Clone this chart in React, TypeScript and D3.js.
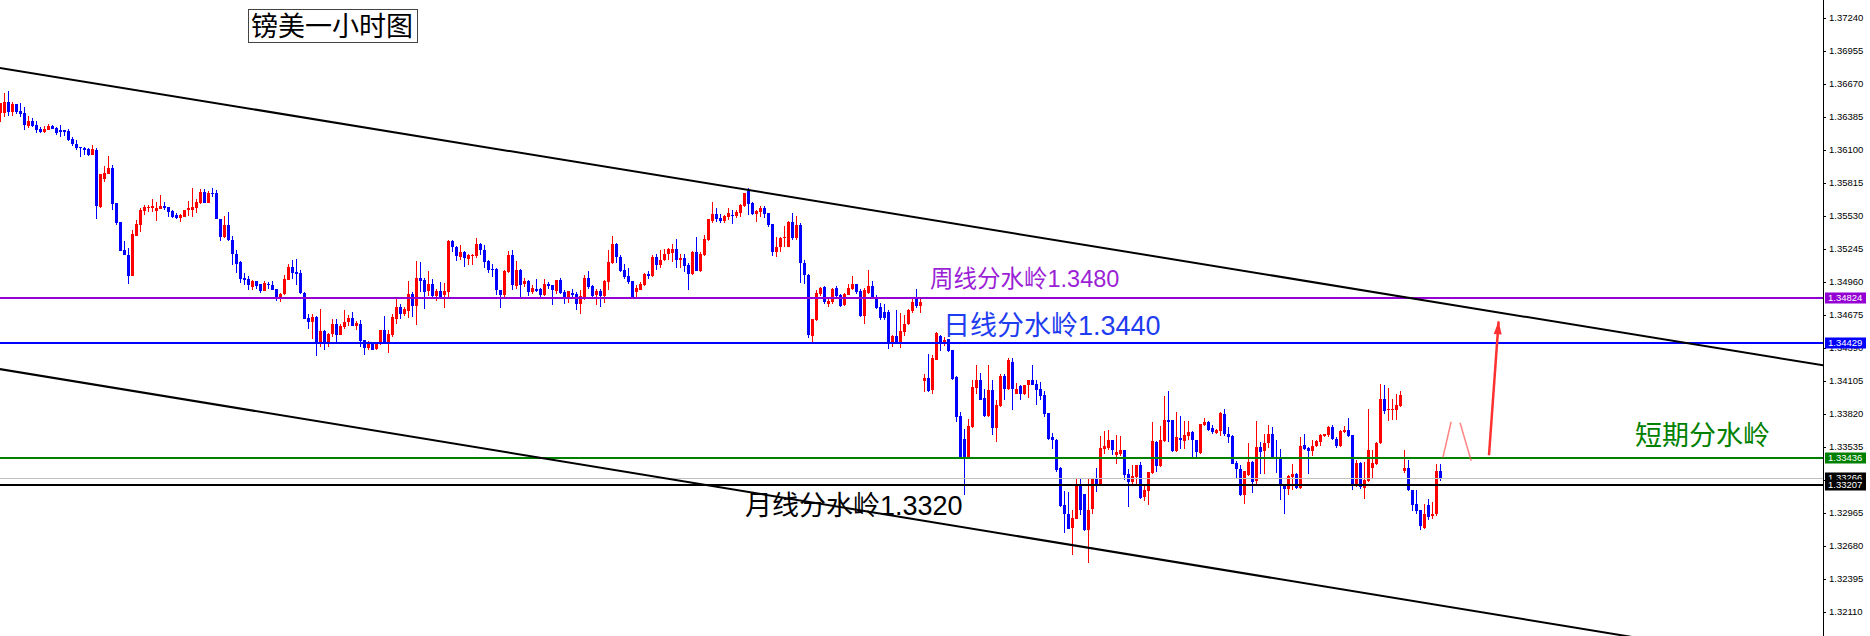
import React, { useEffect } from 'react';
import * as d3 from 'd3';

// ---------- DATA (GBP/USD 1H) ----------
const opens = [
1.36416,1.36422,1.36511,1.36430,1.36497,1.36436,1.36419,1.36309,1.36350,1.36315,
1.36281,1.36255,1.36275,1.36307,1.36286,1.36272,1.36272,1.36263,1.36194,1.36151,
1.36125,1.36119,1.36108,1.36059,1.36099,1.35604,1.35849,1.35892,1.35947,1.35638,
1.35474,1.35235,1.35192,1.35013,1.35356,1.35451,1.35575,1.35598,1.35595,1.35572,
1.35592,1.35615,1.35604,1.35575,1.35540,1.35517,1.35523,1.35578,1.35581,1.35600,
1.35638,1.35739,1.35644,1.35730,1.35730,1.35508,1.35350,1.35451,1.35327,1.35206,
1.35134,1.34996,1.34984,1.34918,1.34967,1.34941,1.34883,1.34947,1.34932,1.34901,
1.34826,1.34857,1.34981,1.35088,1.35047,1.35039,1.34869,1.34650,1.34615,1.34659,
1.34428,1.34535,1.34428,1.34509,1.34595,1.34506,1.34572,1.34613,1.34650,1.34581,
1.34595,1.34457,1.34394,1.34434,1.34385,1.34422,1.34543,1.34422,1.34500,1.34644,
1.34745,1.34682,1.34710,1.34854,1.34754,1.34993,1.34975,1.34883,1.34941,1.34837,
1.34883,1.34846,1.34875,1.35312,1.35263,1.35177,1.35220,1.35157,1.35183,1.35186,
1.35286,1.35240,1.35140,1.35073,1.35070,1.34895,1.34846,1.35047,1.35191,1.34926,
1.35062,1.34941,1.34967,1.34875,1.34903,1.34898,1.34846,1.34947,1.34932,1.34883,
1.34975,1.34875,1.34811,1.34869,1.34860,1.34768,1.34826,1.34993,1.34926,1.34846,
1.34880,1.34837,1.34961,1.35120,1.35287,1.35177,1.35062,1.35010,1.34967,1.34875,
1.34895,1.34933,1.35028,1.35010,1.35177,1.35105,1.35149,1.35200,1.35212,1.35249,
1.35149,1.35169,1.35105,1.35028,1.35218,1.35056,1.35192,1.35321,1.35488,1.35543,
1.35514,1.35486,1.35523,1.35537,1.35529,1.35560,1.35618,1.35748,1.35638,1.35543,
1.35566,1.35595,1.35552,1.35457,1.35221,1.35264,1.35344,1.35264,1.35480,1.35344,
1.35451,1.35128,1.35019,1.34492,1.34630,1.34855,1.34918,1.34774,1.34788,1.34912,
1.34852,1.34760,1.34852,1.34898,1.34941,1.34881,1.34667,1.34866,1.34924,1.34832,
1.34745,1.34702,1.34702,1.34428,1.34495,1.34434,1.34529,1.34595,1.34711,1.34809,
1.34754,1.34106,1.34135,1.34025,1.34290,1.34495,1.34434,1.34466,1.34371,1.34140,
1.33803,1.33608,1.33435,1.33708,1.34048,1.34112,1.33959,1.33801,1.34031,1.33700,
1.33890,1.34146,1.34040,1.34267,1.33991,1.34060,1.33991,1.34068,1.34112,1.34077,
1.34034,1.33982,1.33829,1.33622,1.33599,1.33354,1.33032,1.32960,1.32836,1.32916,
1.33204,1.33127,1.32816,1.33003,1.33268,1.33204,1.33515,1.33530,1.33593,1.33464,
1.33478,1.33507,1.33299,1.33233,1.33276,1.33377,1.33104,1.33155,1.33311,1.33579,
1.33369,1.33587,1.33772,1.33766,1.33501,1.33613,1.33587,1.33628,1.33665,1.33599,
1.33484,1.33723,1.33752,1.33700,1.33656,1.33674,1.33823,1.33651,1.33630,1.33397,
1.33342,1.33124,1.33291,1.33406,1.33239,1.33535,1.33501,1.33573,1.33651,1.33440,
1.33429,1.33219,1.33170,1.33276,1.33299,1.33178,1.33550,1.33530,1.33501,1.33544,
1.33579,1.33630,1.33636,1.33708,1.33607,1.33544,1.33665,1.33679,1.33636,1.33219,
1.33397,1.33184,1.33239,1.33354,1.33386,1.33570,1.33953,1.33858,1.33858,1.33852,
1.33890,1.33328,1.33357,1.33167,1.33040,1.32988,1.32838,1.33031,1.32936,1.32954,
1.33325];
const highs = [
1.36508,1.36589,1.36609,1.36511,1.36497,1.36502,1.36468,1.36393,1.36379,1.36350,
1.36295,1.36307,1.36324,1.36315,1.36295,1.36315,1.36272,1.36281,1.36209,1.36186,
1.36128,1.36128,1.36114,1.36142,1.36114,1.35889,1.35961,1.36047,1.35970,1.35644,
1.35480,1.35313,1.35250,1.35408,1.35494,1.35595,1.35624,1.35624,1.35673,1.35653,
1.35710,1.35647,1.35610,1.35581,1.35552,1.35543,1.35581,1.35659,1.35774,1.35681,
1.35760,1.35760,1.35745,1.35770,1.35753,1.35508,1.35528,1.35563,1.35356,1.35240,
1.35142,1.35039,1.35013,1.34981,1.34970,1.34947,1.34967,1.34961,1.34970,1.34901,
1.34866,1.35019,1.35119,1.35148,1.35157,1.35062,1.34875,1.34682,1.34682,1.34664,
1.34728,1.34543,1.34520,1.34644,1.34644,1.34601,1.34716,1.34673,1.34702,1.34621,
1.34630,1.34463,1.34448,1.34443,1.34443,1.34543,1.34664,1.34543,1.34687,1.34817,
1.34774,1.34745,1.34970,1.34875,1.35142,1.35134,1.34996,1.35053,1.34984,1.34898,
1.34958,1.34949,1.35321,1.35321,1.35269,1.35278,1.35226,1.35200,1.35206,1.35338,
1.35298,1.35278,1.35154,1.35114,1.35085,1.34895,1.35062,1.35226,1.35235,1.35142,
1.35068,1.34998,1.34975,1.34932,1.34990,1.34912,1.34984,1.34961,1.34932,1.34975,
1.34998,1.34889,1.34880,1.34903,1.34875,1.34889,1.35019,1.35053,1.34938,1.34898,
1.34903,1.34981,1.35238,1.35356,1.35293,1.35189,1.35114,1.35077,1.34970,1.34938,
1.34961,1.35039,1.35056,1.35192,1.35200,1.35235,1.35249,1.35255,1.35287,1.35330,
1.35206,1.35200,1.35120,1.35226,1.35350,1.35221,1.35370,1.35503,1.35653,1.35595,
1.35543,1.35537,1.35595,1.35581,1.35581,1.35630,1.35730,1.35768,1.35653,1.35581,
1.35618,1.35618,1.35558,1.35460,1.35350,1.35350,1.35442,1.35488,1.35558,1.35529,
1.35471,1.35149,1.35028,1.34644,1.34889,1.34918,1.34924,1.34823,1.34904,1.34924,
1.34860,1.34869,1.34947,1.35010,1.34947,1.34898,1.34912,1.35062,1.34970,1.34852,
1.34780,1.34774,1.34722,1.34506,1.34722,1.34688,1.34673,1.34731,1.34809,1.34898,
1.34817,1.34163,1.34342,1.34328,1.34529,1.34506,1.34486,1.34472,1.34371,1.34146,
1.33838,1.33694,1.33780,1.34112,1.34247,1.34175,1.34034,1.34241,1.34112,1.33939,
1.34169,1.34169,1.34307,1.34302,1.34091,1.34074,1.34074,1.34117,1.34241,1.34112,
1.34097,1.34017,1.33829,1.33657,1.33602,1.33363,1.33155,1.33147,1.32988,1.33262,
1.33256,1.33132,1.33256,1.33268,1.33357,1.33628,1.33671,1.33685,1.33599,1.33642,
1.33628,1.33513,1.33348,1.33383,1.33383,1.33406,1.33204,1.33320,1.33752,1.33587,
1.33714,1.33973,1.34017,1.33772,1.33838,1.33801,1.33760,1.33760,1.33671,1.33599,
1.33737,1.33789,1.33757,1.33723,1.33694,1.33838,1.33861,1.33708,1.33636,1.33414,
1.33377,1.33325,1.33570,1.33412,1.33757,1.33579,1.33645,1.33723,1.33708,1.33593,
1.33521,1.33219,1.33291,1.33391,1.33311,1.33622,1.33645,1.33535,1.33599,1.33599,
1.33645,1.33651,1.33714,1.33723,1.33622,1.33679,1.33714,1.33786,1.33642,1.33426,
1.33406,1.33406,1.33861,1.33507,1.33579,1.34083,1.34074,1.34048,1.33953,1.33996,
1.34019,1.33512,1.33426,1.33167,1.33167,1.32994,1.33046,1.33089,1.33060,1.33386,
1.33391];
const lows = [
1.36344,1.36387,1.36396,1.36396,1.36410,1.36381,1.36272,1.36286,1.36301,1.36243,
1.36249,1.36249,1.36272,1.36278,1.36229,1.36214,1.36220,1.36180,1.36134,1.36099,
1.36042,1.36053,1.36050,1.36056,1.35503,1.35595,1.35826,1.35892,1.35581,1.35451,
1.35229,1.35192,1.34947,1.35013,1.35356,1.35394,1.35538,1.35566,1.35566,1.35489,
1.35587,1.35581,1.35523,1.35509,1.35503,1.35477,1.35523,1.35529,1.35523,1.35557,
1.35632,1.35640,1.35640,1.35690,1.35502,1.35315,1.35344,1.35315,1.35111,1.35039,
1.34952,1.34935,1.34889,1.34889,1.34903,1.34869,1.34880,1.34903,1.34889,1.34797,
1.34788,1.34849,1.34975,1.34990,1.34932,1.34860,1.34641,1.34558,1.34466,1.34322,
1.34399,1.34371,1.34399,1.34486,1.34443,1.34500,1.34558,1.34578,1.34578,1.34543,
1.34399,1.34333,1.34371,1.34376,1.34371,1.34414,1.34422,1.34348,1.34486,1.34601,
1.34644,1.34664,1.34653,1.34659,1.34589,1.34875,1.34728,1.34837,1.34823,1.34797,
1.34826,1.34736,1.34826,1.35220,1.35142,1.35148,1.35091,1.35108,1.35108,1.35163,
1.35194,1.35085,1.35039,1.35004,1.34846,1.34739,1.34817,1.35042,1.34895,1.34903,
1.34826,1.34918,1.34837,1.34854,1.34875,1.34826,1.34840,1.34903,1.34759,1.34854,
1.34860,1.34768,1.34782,1.34826,1.34722,1.34682,1.34803,1.34903,1.34826,1.34759,
1.34745,1.34780,1.34889,1.35114,1.35126,1.35048,1.34982,1.34941,1.34826,1.34832,
1.34889,1.34927,1.34982,1.35005,1.35062,1.35077,1.35143,1.35149,1.35134,1.35085,
1.35085,1.35048,1.34889,1.35019,1.35056,1.35048,1.35186,1.35316,1.35471,1.35480,
1.35471,1.35471,1.35494,1.35460,1.35509,1.35523,1.35609,1.35537,1.35537,1.35480,
1.35523,1.35509,1.35437,1.35183,1.35177,1.35221,1.35264,1.35258,1.35321,1.35321,
1.34953,1.34947,1.34480,1.34434,1.34624,1.34837,1.34774,1.34745,1.34774,1.34823,
1.34745,1.34751,1.34846,1.34889,1.34860,1.34659,1.34601,1.34860,1.34809,1.34731,
1.34636,1.34630,1.34385,1.34400,1.34423,1.34394,1.34495,1.34587,1.34688,1.34739,
1.34688,1.34011,1.34011,1.33996,1.34284,1.34365,1.34405,1.34356,1.34117,1.33752,
1.33429,1.33118,1.33429,1.33703,1.33996,1.33939,1.33795,1.33795,1.33636,1.33579,
1.33881,1.33939,1.34025,1.33853,1.33991,1.33945,1.33982,1.33962,1.34068,1.33896,
1.33939,1.33795,1.33593,1.33521,1.33320,1.33017,1.32793,1.32830,1.32600,1.32911,
1.32945,1.32810,1.32531,1.32960,1.33147,1.33204,1.33478,1.33507,1.33464,1.33392,
1.33455,1.33248,1.33017,1.33219,1.33213,1.33089,1.33069,1.33032,1.33305,1.33320,
1.33363,1.33579,1.33579,1.33492,1.33492,1.33515,1.33515,1.33593,1.33449,1.33449,
1.33478,1.33714,1.33674,1.33645,1.33645,1.33630,1.33628,1.33570,1.33386,1.33268,
1.33112,1.33043,1.33285,1.33138,1.33219,1.33305,1.33305,1.33530,1.33435,1.33311,
1.33075,1.32957,1.33124,1.33167,1.33170,1.33170,1.33512,1.33299,1.33455,1.33535,
1.33541,1.33622,1.33622,1.33599,1.33530,1.33535,1.33659,1.33622,1.33161,1.33190,
1.33170,1.33089,1.33233,1.33262,1.33383,1.33564,1.33823,1.33760,1.33766,1.33766,
1.33881,1.33311,1.33152,1.32982,1.32954,1.32821,1.32824,1.32902,1.32916,1.32939,
1.33242];
const closes = [
1.36502,1.36511,1.36425,1.36497,1.36430,1.36413,1.36315,1.36353,1.36309,1.36272,
1.36258,1.36281,1.36309,1.36284,1.36243,1.36255,1.36258,1.36186,1.36148,1.36119,
1.36114,1.36099,1.36056,1.36105,1.35615,1.35889,1.35903,1.35947,1.35633,1.35466,
1.35229,1.35195,1.35013,1.35373,1.35460,1.35581,1.35610,1.35610,1.35615,1.35601,
1.35615,1.35595,1.35566,1.35523,1.35512,1.35535,1.35581,1.35601,1.35610,1.35649,
1.35739,1.35644,1.35730,1.35718,1.35502,1.35350,1.35451,1.35327,1.35206,1.35119,
1.34987,1.34978,1.34935,1.34967,1.34924,1.34883,1.34952,1.34932,1.34895,1.34826,
1.34860,1.34987,1.35091,1.35039,1.35033,1.34869,1.34644,1.34615,1.34659,1.34428,
1.34535,1.34428,1.34515,1.34595,1.34503,1.34581,1.34615,1.34650,1.34581,1.34607,
1.34451,1.34394,1.34422,1.34376,1.34440,1.34543,1.34422,1.34509,1.34659,1.34745,
1.34682,1.34725,1.34854,1.34754,1.34998,1.34970,1.34875,1.34941,1.34837,1.34883,
1.34831,1.34883,1.35315,1.35258,1.35183,1.35220,1.35163,1.35191,1.35191,1.35286,
1.35235,1.35134,1.35062,1.35062,1.34895,1.34846,1.35053,1.35191,1.34932,1.35062,
1.34932,1.34967,1.34875,1.34909,1.34883,1.34846,1.34947,1.34924,1.34889,1.34975,
1.34866,1.34826,1.34880,1.34852,1.34768,1.34837,1.34993,1.34918,1.34837,1.34880,
1.34837,1.34967,1.35131,1.35287,1.35172,1.35056,1.34999,1.34961,1.34826,1.34904,
1.34941,1.35028,1.35010,1.35177,1.35105,1.35154,1.35206,1.35244,1.35249,1.35149,
1.35169,1.35100,1.35028,1.35221,1.35056,1.35200,1.35330,1.35500,1.35543,1.35500,
1.35488,1.35532,1.35558,1.35532,1.35566,1.35624,1.35725,1.35632,1.35543,1.35572,
1.35601,1.35543,1.35451,1.35221,1.35264,1.35344,1.35350,1.35480,1.35344,1.35451,
1.35126,1.35019,1.34501,1.34639,1.34866,1.34904,1.34783,1.34794,1.34898,1.34837,
1.34751,1.34860,1.34909,1.34941,1.34875,1.34667,1.34889,1.34924,1.34811,1.34739,
1.34650,1.34650,1.34428,1.34495,1.34428,1.34535,1.34601,1.34716,1.34788,1.34751,
1.34783,1.34135,1.34019,1.34307,1.34521,1.34434,1.34463,1.34365,1.34126,1.33795,
1.33435,1.33435,1.33714,1.34054,1.34112,1.33945,1.33801,1.34025,1.33703,1.33896,
1.34146,1.34040,1.34284,1.34034,1.34034,1.33991,1.34068,1.34112,1.34068,1.34031,
1.33973,1.33818,1.33608,1.33599,1.33334,1.33023,1.32954,1.32830,1.32922,1.33204,
1.32988,1.32816,1.32988,1.33268,1.33204,1.33527,1.33541,1.33593,1.33507,1.33492,
1.33507,1.33291,1.33233,1.33282,1.33377,1.33098,1.33161,1.33320,1.33585,1.33369,
1.33593,1.33772,1.33752,1.33501,1.33622,1.33593,1.33636,1.33665,1.33593,1.33492,
1.33731,1.33752,1.33680,1.33665,1.33679,1.33829,1.33651,1.33622,1.33391,1.33348,
1.33124,1.33325,1.33406,1.33233,1.33535,1.33492,1.33573,1.33651,1.33435,1.33435,
1.33213,1.33170,1.33282,1.33299,1.33178,1.33547,1.33521,1.33501,1.33544,1.33584,
1.33636,1.33645,1.33708,1.33602,1.33544,1.33674,1.33679,1.33630,1.33219,1.33397,
1.33190,1.33247,1.33512,1.33397,1.33570,1.33953,1.33846,1.33867,1.33867,1.33895,
1.33982,1.33357,1.33161,1.33031,1.32982,1.32850,1.32959,1.32931,1.32959,1.33328,
1.33262];

const yTicks = [1.37240,1.36955,1.36670,1.36385,1.36100,1.35815,1.35530,1.35245,1.34960,
  1.34675,1.34390,1.34105,1.33820,1.33535,1.33250,1.32965,1.32680,1.32395,1.32110];

const weeklyLevel = 1.34824;
const dailyLevel = 1.34429;
const shortLevel = 1.33436;
const bidPrice = 1.33266;
const monthlyLevel = 1.33207;

// trend channel (candle index, price)
const upperTrend = [[-1, 1.36814], [460, 1.34216]];
const lowerTrend = [[-1, 1.34213], [420, 1.31826]];

// red hand-drawn forecast strokes (candle index, price)
const forecastA = [[360.7, 1.33447], [362.7, 1.33749]];
const forecastB = [[365.0, 1.33740], [367.7, 1.33421]];
const forecastArrow = [[372.2, 1.33464], [374.6, 1.34620]];

const titleText = '镑美一小时图';
const weeklyText = '周线分水岭1.3480';
const dailyText = '日线分水岭1.3440';
const monthlyText = '月线分水岭1.3320';
const shortText = '短期分水岭';

// ---------- CHART ----------
const W = 1870;
const H = 636;
const PLOT_R = 1823;

export default function App() {
  useEffect(() => {
    document.body.style.margin = '0';
  }, []);

  const x = d3.scaleLinear().domain([0, 360]).range([0.2, 1440.2]);
  const y = d3.scaleLinear().domain([1.3724, 1.3211]).range([18, 612]);

  const candles = opens.map((o, i) => ({ i, o, h: highs[i], l: lows[i], c: closes[i] }));

  const lineGen = d3.line<number[]>().x(d => x(d[0])).y(d => y(d[1]));

  const hLine = (v: number, color: string, w: number) => {
    const yy = Math.round(y(v));
    return <rect x={0} y={yy - w / 2} width={PLOT_R} height={w} fill={color} />;
  };

  const tag = (v: number, bg: string, key: string) => {
    const yy = Math.round(y(v));
    return (
      <g key={key}>
        <rect x={1825} y={yy - 5.5} width={41} height={11} fill={bg} />
        <text x={1828} y={yy} dy="0.36em" fill="#fff" fontSize={9.5}
          fontFamily="'Liberation Sans', Arial, sans-serif">{v.toFixed(5)}</text>
      </g>
    );
  };

  const cjkFont = "'Liberation Sans', 'Noto Sans CJK SC', sans-serif";

  // arrow head
  const a0 = forecastArrow[0], a1 = forecastArrow[1];
  const ax0 = x(a0[0]), ay0 = y(a0[1]), ax1 = x(a1[0]), ay1 = y(a1[1]);
  const ang = Math.atan2(ay1 - ay0, ax1 - ax0);
  const hl = 13, hw = 4;
  const bx = ax1 - hl * Math.cos(ang), by = ay1 - hl * Math.sin(ang);
  const head = [
    [ax1, ay1],
    [bx + hw * Math.sin(ang), by - hw * Math.cos(ang)],
    [bx - hw * Math.sin(ang), by + hw * Math.cos(ang)],
  ];

  return (
    <svg width={W} height={H} style={{ position: 'absolute', left: 0, top: 0, display: 'block', background: '#fff' }}>
      <defs>
        <clipPath id="plot"><rect x={0} y={0} width={PLOT_R} height={H} /></clipPath>
      </defs>

      {/* candles */}
      <g shapeRendering="crispEdges">
        {candles.map(d => {
          const cx = Math.round(x(d.i));
          const up = d.c >= d.o;
          const col = up ? '#FF0000' : '#0000FF';
          const top = Math.round(y(Math.max(d.o, d.c)));
          const bot = Math.round(y(Math.min(d.o, d.c)));
          const wt = Math.round(y(d.h));
          const wb = Math.round(y(d.l));
          return (
            <g key={d.i}>
              <rect x={cx} y={wt} width={1} height={Math.max(1, wb - wt)} fill={col} />
              <rect x={cx - 1} y={top} width={3} height={Math.max(1, bot - top)} fill={col} />
            </g>
          );
        })}
      </g>

      {/* horizontal levels */}
      <g shapeRendering="crispEdges">
        {hLine(weeklyLevel, '#9400D3', 2)}
        {hLine(dailyLevel, '#0000FF', 2)}
        {hLine(shortLevel, '#008000', 2)}
        {hLine(bidPrice, '#C0C0C0', 1)}
        {hLine(monthlyLevel, '#000000', 2)}
      </g>

      {/* trend channel */}
      <g clipPath="url(#plot)">
        <path d={lineGen(upperTrend) || ''} stroke="#000" strokeWidth={2} fill="none" />
        <path d={lineGen(lowerTrend) || ''} stroke="#000" strokeWidth={2} fill="none" />
      </g>

      {/* forecast strokes */}
      <path d={lineGen(forecastA) || ''} stroke="#FF5050" strokeOpacity={0.7} strokeWidth={1.5} fill="none" strokeLinecap="round" />
      <path d={lineGen(forecastB) || ''} stroke="#FF5050" strokeOpacity={0.7} strokeWidth={1.5} fill="none" strokeLinecap="round" />
      <path d={lineGen(forecastArrow) || ''} stroke="#FF3030" strokeWidth={2.5} fill="none" />
      <polygon points={head.map(p => p.join(',')).join(' ')} fill="#FF3030" />

      {/* annotation texts */}
      <text x={930} y={287} fill="#9B1FD6" fontSize={23.5} fontFamily={cjkFont}>{weeklyText}</text>
      <text x={943} y={335} fill="#1E3CF0" fontSize={27} fontFamily={cjkFont}>{dailyText}</text>
      <text x={745} y={515} fill="#000" fontSize={27} fontFamily={cjkFont}>{monthlyText}</text>
      <text x={1635} y={445} fill="#008000" fontSize={27} fontFamily={cjkFont}>{shortText}</text>

      {/* title */}
      <rect x={248.5} y={9.5} width={169} height={33} fill="#fff" stroke="#444" strokeWidth={1} />
      <text x={251} y={36} fill="#000" fontSize={27} fontFamily="'Noto Sans CJK SC', sans-serif">{titleText}</text>

      {/* price axis */}
      <rect x={PLOT_R} y={0} width={1} height={H} fill="#000" shapeRendering="crispEdges" />
      <g>
        {yTicks.map(t => {
          const yy = Math.round(y(t));
          return (
            <g key={t}>
              <rect x={PLOT_R} y={yy} width={3} height={1} fill="#000" shapeRendering="crispEdges" />
              <text x={1829} y={yy} dy="0.36em" fill="#000" fontSize={9.5}
                fontFamily="'Liberation Sans', Arial, sans-serif">{t.toFixed(5)}</text>
            </g>
          );
        })}
      </g>
      {tag(weeklyLevel, '#9400D3', 'w')}
      {tag(dailyLevel, '#0000FF', 'd')}
      {tag(shortLevel, '#008000', 's')}
      {tag(bidPrice, '#000000', 'b')}
      {tag(monthlyLevel, '#000000', 'm')}
    </svg>
  );
}
